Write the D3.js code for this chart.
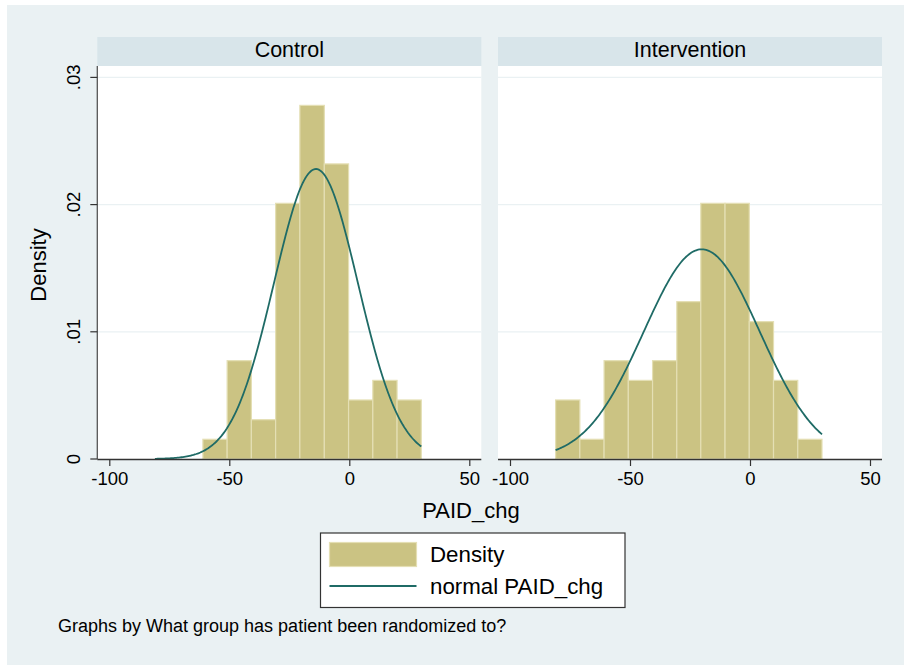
<!DOCTYPE html>
<html>
<head>
<meta charset="utf-8">
<script src="https://cdn.jsdelivr.net/npm/d3@7"></script>
<style>
  html, body { margin: 0; padding: 0; background: #ffffff; }
  svg { display: block; font-family: "Liberation Sans", Arial, sans-serif; }
</style>
</head>
<body>
<svg id="chart" width="904" height="665"></svg>
<script>
// ---- data ----
const groups = ["Control", "Intervention"];
const controlEdges = [-61, -50.9, -40.8, -30.7, -20.6, -10.4, -0.3, 9.8, 19.9, 30];
const controlDensity = [0.00155, 0.00773, 0.00309, 0.0201, 0.0278, 0.0232, 0.00464, 0.00618, 0.00464];
const interventionEdges = [-81, -70.9, -60.8, -50.7, -40.6, -30.5, -20.5, -10.4, -0.3, 9.8, 19.9, 30];
const interventionDensity = [0.00464, 0.00155, 0.00773, 0.00618, 0.00773, 0.01237, 0.0201, 0.0201, 0.0108, 0.00618, 0.00155];
const normalMean = [-13.9, -20.1];
const normalSD = [17.5, 24.2];
const curveRange = [-81, 30];
const xTicks = [-100, -50, 0, 50];
const xTickLabels = ["-100", "-50", "0", "50"];
const yTicks = [0, 0.01, 0.02, 0.03];
const yTickLabels = ["0", ".01", ".02", ".03"];
const legendLabels = ["Density", "normal PAID_chg"];

const edgesByGroup = [controlEdges, interventionEdges];
const densByGroup = [controlDensity, interventionDensity];

// ---- layout ----
const svg = d3.select("#chart");
const W = 904, H = 665;
const bg = "#eaf1f3", strip = "#d8e5ea";
const barFill = "#cbc383", barStroke = "#e4dfb4", lineColor = "#1f6b66";
const font = '"Liberation Sans", Arial, sans-serif';

svg.append("rect").attr("x", 0).attr("y", 0).attr("width", W).attr("height", H).attr("fill", "#ffffff");
svg.append("rect").attr("x", 7).attr("y", 5).attr("width", W - 7).attr("height", H - 5).attr("fill", bg);

const panelX = [97.3, 498];
const panelW = 384;
const plotTop = 66, plotBottom = 459;
const stripTop = 37;

const y = d3.scaleLinear().domain([0, 0.03]).range([plotBottom, 77.4]);

groups.forEach((g, i) => {
  const x = d3.scaleLinear().domain([-105, 55]).range([panelX[i], panelX[i] + panelW]);
  const gp = svg.append("g");

  // strip
  gp.append("rect").attr("x", panelX[i]).attr("y", stripTop).attr("width", panelW).attr("height", plotTop - stripTop).attr("fill", strip);
  gp.append("text").attr("x", panelX[i] + panelW / 2).attr("y", 56.7)
    .attr("text-anchor", "middle").attr("font-size", 21.5).attr("fill", "#000").text(g);

  // plot area
  gp.append("rect").attr("x", panelX[i]).attr("y", plotTop).attr("width", panelW).attr("height", plotBottom - plotTop).attr("fill", "#ffffff");

  // gridlines
  gp.selectAll(".grid").data(yTicks.filter(t => t > 0)).enter().append("line")
    .attr("x1", panelX[i]).attr("x2", panelX[i] + panelW)
    .attr("y1", d => y(d)).attr("y2", d => y(d))
    .attr("stroke", bg).attr("stroke-width", 1.2);

  // bars
  const edges = edgesByGroup[i];
  const dens = densByGroup[i];
  gp.selectAll(".bar").data(dens).enter().append("rect")
    .attr("x", (d, k) => x(edges[k]))
    .attr("width", (d, k) => x(edges[k + 1]) - x(edges[k]))
    .attr("y", d => y(d))
    .attr("height", d => y(0) - y(d))
    .attr("fill", barFill).attr("stroke", barStroke).attr("stroke-width", 1.2);

  // normal curve
  const m = normalMean[i], s = normalSD[i];
  const pts = d3.range(0, 201).map(k => {
    const xv = curveRange[0] + (curveRange[1] - curveRange[0]) * k / 200;
    return [xv, Math.exp(-0.5 * ((xv - m) / s) ** 2) / (s * Math.sqrt(2 * Math.PI))];
  });
  gp.append("path").datum(pts)
    .attr("d", d3.line().x(d => x(d[0])).y(d => y(d[1])))
    .attr("fill", "none").attr("stroke", lineColor).attr("stroke-width", 1.8);

  // x axis
  const xa = gp.append("g").attr("transform", `translate(0,${plotBottom})`)
    .call(d3.axisBottom(x).tickValues(xTicks).tickSize(7).tickPadding(4)
      .tickFormat((d, k) => xTickLabels[k]));
  xa.select(".domain").attr("stroke", "#333").attr("stroke-width", 1.3);
  xa.selectAll(".tick line").attr("stroke", "#333").attr("stroke-width", 1.2);
  xa.selectAll(".tick text").attr("font-size", 18.5).attr("font-family", font).attr("fill", "#000")
    .attr("dy", null).attr("y", 26);
  xa.select(".domain").attr("d", `M${panelX[i]},0.5H${panelX[i] + panelW}`);

  // y axis only on first panel
  if (i === 0) {
    const ya = gp.append("g").attr("transform", `translate(${panelX[i]},0)`);
    ya.append("line").attr("x1", 0).attr("x2", 0).attr("y1", plotTop).attr("y2", plotBottom)
      .attr("stroke", "#555").attr("stroke-width", 1.3);
    ya.selectAll(".yt").data(yTicks).enter().append("line")
      .attr("x1", -7).attr("x2", 0).attr("y1", d => y(d)).attr("y2", d => y(d))
      .attr("stroke", "#333").attr("stroke-width", 1.2);
    ya.selectAll(".yl").data(yTicks).enter().append("text")
      .attr("transform", d => `translate(-17,${y(d)}) rotate(-90)`)
      .attr("text-anchor", "middle").attr("font-size", 18.5).attr("fill", "#000")
      .text((d, k) => yTickLabels[k]);
  }
});

// axis titles
svg.append("text").attr("transform", "translate(46,265) rotate(-90)")
  .attr("text-anchor", "middle").attr("font-size", 22).attr("fill", "#000").text("Density");
svg.append("text").attr("x", 471).attr("y", 518)
  .attr("text-anchor", "middle").attr("font-size", 22).attr("fill", "#000").text("PAID_chg");

// legend
const lg = svg.append("g");
lg.append("rect").attr("x", 320.5).attr("y", 533).attr("width", 304.5).attr("height", 74.5)
  .attr("fill", "#ffffff").attr("stroke", "#333").attr("stroke-width", 1.2);
lg.append("rect").attr("x", 329.5).attr("y", 542.5).attr("width", 87).attr("height", 24)
  .attr("fill", barFill).attr("stroke", barStroke).attr("stroke-width", 1.2);
lg.append("line").attr("x1", 329.5).attr("x2", 416.5).attr("y1", 586).attr("y2", 586)
  .attr("stroke", lineColor).attr("stroke-width", 1.8);
lg.append("text").attr("x", 430).attr("y", 562).attr("font-size", 22.3).attr("fill", "#000").text(legendLabels[0]);
lg.append("text").attr("x", 430).attr("y", 594).attr("font-size", 22.3).attr("fill", "#000").text(legendLabels[1]);

// note
svg.append("text").attr("x", 58).attr("y", 632).attr("font-size", 18).attr("fill", "#000")
  .text("Graphs by What group has patient been randomized to?");
</script>
</body>
</html>
